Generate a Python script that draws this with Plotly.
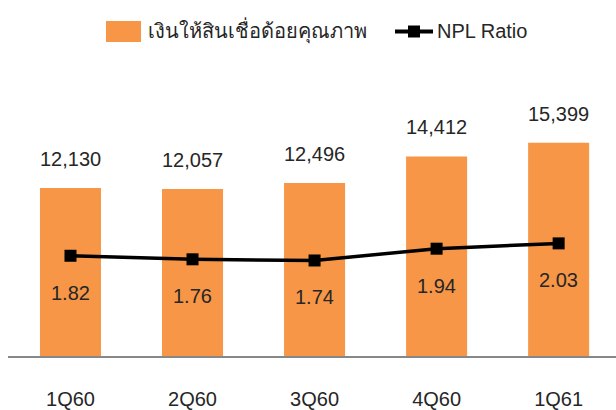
import plotly.graph_objects as go

categories = ["1Q60", "2Q60", "3Q60", "4Q60", "1Q61"]
npl_values = [12130, 12057, 12496, 14412, 15399]
npl_ratio = [1.82, 1.76, 1.74, 1.94, 2.03]
bar_name = "เงินให้สินเชื่อด้อยคุณภาพ"
line_name = "NPL Ratio"

ORANGE = "#F79646"
TXT = "#262626"
FONT = "Liberation Sans, Arial, sans-serif"

xi = list(range(len(categories)))

fig = go.Figure()
fig.add_trace(go.Bar(x=xi, y=npl_values, name=bar_name, marker=dict(color=ORANGE, line=dict(width=0)),
                     width=0.5, showlegend=False, hoverinfo="skip"))
fig.add_trace(go.Scatter(x=xi, y=npl_ratio, name=line_name, yaxis="y2", mode="lines+markers",
                         line=dict(color="black", width=3.5),
                         marker=dict(symbol="square", size=12, color="black"),
                         showlegend=False, hoverinfo="skip"))

ann = []
for i, v in zip(xi, npl_values):
    ann.append(dict(x=i, y=v, xref="x", yref="y", text=f"{v:,}", showarrow=False,
                    yshift=29, font=dict(size=20, color=TXT, family=FONT)))
for i, v in zip(xi, npl_ratio):
    ann.append(dict(x=i, y=v, xref="x", yref="y2", text=f"{v:.2f}", showarrow=False,
                    yshift=-37, font=dict(size=20, color=TXT, family=FONT)))

W, H = 616, 410
pl, pt, pw, ph = 8, 60, 608, 296
def px(x):
    return (x - pl) / pw
def py(y):
    return 1 - (y - pt) / ph

shapes = []
shapes.append(dict(type="rect", xref="paper", yref="paper", x0=px(106), x1=px(141), y0=py(42), y1=py(21),
                   fillcolor=ORANGE, line=dict(width=0)))
shapes.append(dict(type="line", xref="paper", yref="paper", x0=px(395), x1=px(433), y0=py(31.5), y1=py(31.5),
                   line=dict(color="black", width=4)))
shapes.append(dict(type="rect", xref="paper", yref="paper", x0=px(408), x1=px(420), y0=py(37.5), y1=py(25.5),
                   fillcolor="black", line=dict(width=0)))
ann.append(dict(x=px(146), y=py(31), xref="paper", yref="paper", text=bar_name, showarrow=False,
                xanchor="left", yanchor="middle", font=dict(size=20, color=TXT, family=FONT)))
ann.append(dict(x=px(435), y=py(31), xref="paper", yref="paper", text=line_name, showarrow=False,
                xanchor="left", yanchor="middle", font=dict(size=20, color=TXT, family=FONT)))

fig.update_layout(
    width=W, height=H,
    margin=dict(l=pl, r=W - pl - pw, t=pt, b=H - pt - ph, autoexpand=False),
    plot_bgcolor="white", paper_bgcolor="white",
    font=dict(family=FONT, size=20, color=TXT),
    xaxis=dict(range=[-0.512, 4.47], tickmode="array", tickvals=xi, ticktext=categories,
               showgrid=False, zeroline=False, showline=True, linecolor="#878787", linewidth=2,
               ticks="", ticklabelstandoff=24, automargin=False, tickfont=dict(size=20, color=TXT)),
    yaxis=dict(range=[0, 21372], visible=False, showgrid=False, zeroline=False, automargin=False),
    yaxis2=dict(range=[0.12, 5.14], overlaying="y", visible=False, showgrid=False, zeroline=False),
    showlegend=False,
    annotations=ann, shapes=shapes,
)
fig.write_html("out.html", config={"displayModeBar": False},
               post_script="document.body.style.margin='0';document.body.style.overflow='hidden';")
